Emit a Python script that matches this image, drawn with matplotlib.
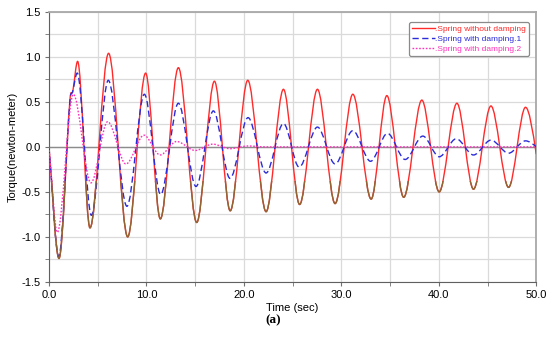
import numpy as np
import matplotlib.pyplot as plt
from matplotlib.path import Path
from matplotlib.patches import PathPatch, Rectangle
from matplotlib.lines import Line2D
from matplotlib.ticker import MultipleLocator, FormatStrFormatter

plt.rcParams['font.family'] = ['Liberation Sans', 'DejaVu Sans']

# peaks / troughs (time in s, torque in N.m)
red_t = [0, 1.03, 2.16, 2.45, 2.94, 4.21, 6.12, 8.08, 9.92, 11.43, 13.28, 15.16, 16.98, 18.6,
         20.4, 22.28, 24.06, 25.72, 27.55, 29.36, 31.18, 33.06, 34.67, 36.4, 38.26, 40.04,
         41.86, 43.56, 45.35, 47.16, 48.9, 50.0]
red_v = [0, -1.24, 0.53, 0.62, 0.95, -0.90, 1.04, -1.00, 0.82, -0.80, 0.88, -0.84, 0.73, -0.71,
         0.74, -0.72, 0.64, -0.64, 0.64, -0.63, 0.585, -0.58, 0.57, -0.56, 0.52, -0.50,
         0.485, -0.47, 0.455, -0.45, 0.44, -0.08]

blue_t = [0, 1.0, 2.16, 2.42, 2.9, 4.35, 6.09, 8.0, 9.79, 11.46, 13.28, 15.09, 16.87, 18.58,
          20.43, 22.28, 24.06, 25.67, 27.55, 29.36, 31.18, 33.0, 34.73, 36.55, 38.36, 40.04,
          41.79, 43.56, 45.35, 47.16, 48.9, 50.0]
blue_v = [0, -1.22, 0.52, 0.61, 0.82, -0.76, 0.74, -0.66, 0.585, -0.53, 0.485, -0.44, 0.40, -0.35,
          0.325, -0.29, 0.26, -0.225, 0.22, -0.19, 0.18, -0.16, 0.15, -0.14, 0.12, -0.11,
          0.09, -0.09, 0.075, -0.07, 0.067, 0.0]

mag_t = [0, 0.86, 2.5, 4.31, 6.02, 7.9, 9.75, 11.4, 13.1, 15.0, 16.8, 18.6, 20.4, 22.2, 50.0]
mag_v = [0, -0.95, 0.585, -0.40, 0.28, -0.19, 0.13, -0.09, 0.06, -0.04, 0.03, -0.02, 0.01, 0.0, 0.0]

labels = ['.Spring without damping', '.Spring with damping.1', '.Spring with damping.2']
colors = ['#ff2a2a', '#2b2bd9', '#ff33bb']
styles = ['-', (0, (4.5, 2.5)), (0, (1.2, 1.2))]


def smooth_path(t, v):
    # cubic hermite through the read points, flat at peaks/troughs
    t = np.asarray(t, float)
    v = np.asarray(v, float)
    n = len(t)
    m = np.zeros(n)
    for i in range(n):
        if i == 0:
            m[i] = (v[1] - v[0]) / (t[1] - t[0])
        elif i == n - 1:
            m[i] = 1.5 * (v[-1] - v[-2]) / (t[-1] - t[-2])
        elif (v[i] - v[i - 1]) * (v[i + 1] - v[i]) <= 0:
            m[i] = 0
        else:
            m[i] = (v[i + 1] - v[i - 1]) / (t[i + 1] - t[i - 1])
    verts = [(t[0], v[0])]
    codes = [Path.MOVETO]
    for i in range(n - 1):
        d = (t[i + 1] - t[i]) / 3
        verts += [(t[i] + d, v[i] + m[i] * d), (t[i + 1] - d, v[i + 1] - m[i + 1] * d), (t[i + 1], v[i + 1])]
        codes += [Path.CURVE4] * 3
    return Path(verts, codes)


fig = plt.figure(figsize=(5.5, 3.4), dpi=100)
ax = fig.add_axes([0.089, 0.171, 0.886, 0.794])

ax.set_xlim(0, 50)
ax.set_ylim(-1.5, 1.5)
ax.xaxis.set_major_locator(MultipleLocator(10))
ax.xaxis.set_minor_locator(MultipleLocator(5))
ax.yaxis.set_major_locator(MultipleLocator(0.5))
ax.yaxis.set_minor_locator(MultipleLocator(0.25))
ax.xaxis.set_major_formatter(FormatStrFormatter('%.1f'))
ax.yaxis.set_major_formatter(FormatStrFormatter('%.1f'))
ax.grid(True, which='both', color='#dadada', lw=0.9)
ax.set_axisbelow(True)
ax.axhline(0, color='#8c8c8c', lw=1.0, zorder=1)

ax.tick_params(which='both', direction='out', length=3, color='#707070', labelsize=8, pad=3)
for s in ['left', 'bottom']:
    ax.spines[s].set_color('#606060')
for s in ['top', 'right']:
    ax.spines[s].set_color('#a8a8a8')
    ax.spines[s].set_linewidth(1.3)

series = [(red_t, red_v), (blue_t, blue_v), (mag_t, mag_v)]
for (t, v), c, ls in zip(series, colors, styles):
    ax.add_patch(PathPatch(smooth_path(t, v), fill=False, edgecolor=c, lw=1.0, linestyle=ls, zorder=3))
    if c == colors[0]:
        # lower part of the red troughs shows up brownish in the original
        low = PathPatch(smooth_path(t, v), fill=False, edgecolor='#8f6534', lw=1.0, zorder=3.5)
        ax.add_patch(low)
        low.set_clip_path(Rectangle((0, -1.6), 50, 1.22, transform=ax.transData))

ax.set_xlabel('Time (sec)', fontsize=8, labelpad=2)
ax.set_ylabel('Torque(newton-meter)', fontsize=8, labelpad=3)

handles = [Line2D([], [], color=c, lw=1.0, linestyle=ls) for c, ls in zip(colors, styles)]
leg = ax.legend(handles, labels, loc='upper right', bbox_to_anchor=(529 / 550, 1 - 22 / 340),
                bbox_transform=fig.transFigure, borderaxespad=0, fontsize=6, handlelength=2.8,
                handletextpad=0.0, labelspacing=0.28, borderpad=0.35, fancybox=True,
                edgecolor='#8a8a8a', framealpha=1, labelcolor=colors)
leg.get_frame().set_linewidth(0.9)

fig.text(0.497, 0.058, '(a)', fontsize=9.5, fontweight='bold', family='Liberation Serif', ha='center', va='center')

fig.savefig('out.png', dpi=100)
